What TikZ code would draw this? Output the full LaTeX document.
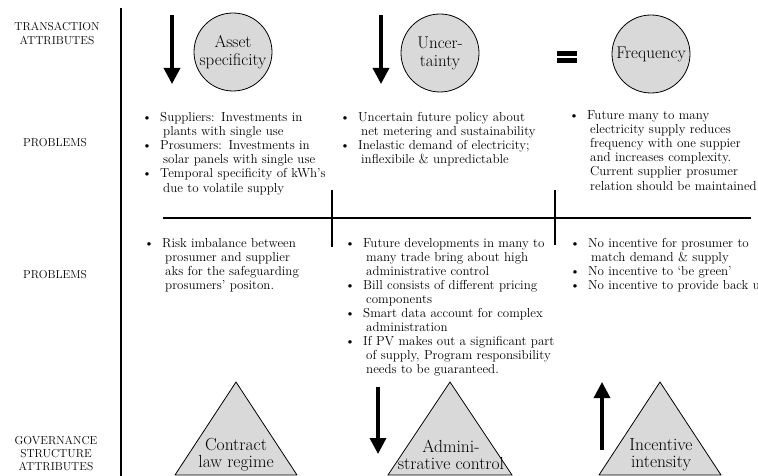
\documentclass[tikz,border=0pt]{standalone}
\usepackage{fontspec}
\usepackage{tikz}
\usetikzlibrary{arrows.meta,positioning}
\definecolor{TcGray}{HTML}{D9D9D9}
\definecolor{TcDark}{HTML}{000000}
\newcommand{\bitem}{\par\hangindent=21pt\hangafter=1\noindent\makebox[18pt][l]{\textbullet}}
\newcommand{\nl}{\newline}
\tikzset{
  rowlabel/.style={align=center,inner sep=0pt,font=\fontsize{11.5}{14}\selectfont},
  attrcircle/.style={circle,draw=TcDark,line width=0.8pt,fill=TcGray,minimum size=78pt,inner sep=0pt,align=center,font=\fontsize{17}{18}\selectfont},
  attrtext/.style={align=center,inner sep=0pt,font=\fontsize{17.5}{17}\selectfont},
  problist/.style={text width=215pt,align=left,inner sep=0pt,anchor=base west,font=\fontsize{13}{14.1}\selectfont},
  bigarrow/.style={-{Triangle[length=16pt,width=16pt]},line width=3.4pt,draw=TcDark},
  gridline/.style={line width=1.1pt,draw=TcDark},
  govtri/.style={draw=TcDark,line width=0.8pt,fill=TcGray,line join=miter}
}

\begin{document}
\begin{tikzpicture}[x=1pt,y=-1pt]
\useasboundingbox (0,0) rectangle (758,476);
\node[rowlabel] (ltrans) at (57,34) {TRANSACTION\\ATTRIBUTES};
\node[rowlabel] (lprob1) at (55,143) {PROBLEMS};
\node[rowlabel] (lprob2) at (55,275) {PROBLEMS};
\node[rowlabel,font=\fontsize{11.5}{13}\selectfont] (lgov) at (56,454) {GOVERNANCE\\STRUCTURE\\ATTRIBUTES};
\coordinate (vtop) at (121,8);
\coordinate (vbot) at (121,476);
\draw[gridline] (vtop) -- (vbot);

\node[attrcircle] (asset) at (233,52) {Asset\\specificity};
\node[attrcircle] (uncert) at (440,53) {Uncer-\\tainty};
\node[attrcircle] (freq) at (651,54) {Frequency};
\coordinate (a1s) at (172,15);
\coordinate (a1e) at (172,84);
\coordinate (a2s) at (381,15);
\coordinate (a2e) at (381,84);
\draw[bigarrow] (a1s) -- (a1e);
\draw[bigarrow] (a2s) -- (a2e);
\fill[TcDark] (557,51.5) rectangle (577,56);
\fill[TcDark] (557,58.5) rectangle (577,63);

\node[problist] (p1a) at (142,107.5) {\bitem Suppliers: Investments in\nl plants with single use
\bitem Prosumers: Investments in\nl solar panels with single use
\bitem Temporal specificity of kWh's\nl due to volatile supply\par};
\node[problist] (p1b) at (340,107.5) {\bitem Uncertain future policy about\nl net metering and sustainability
\bitem Inelastic demand of electricity;\nl inflexibile \& unpredictable\par};
\node[problist] (p1c) at (569,105.5) {\bitem Future many to many\nl electricity supply reduces\nl frequency with one suppier\nl and increases complexity.\nl Current supplier prosumer\nl relation should be maintained\par};

\coordinate (hl) at (163,218);
\coordinate (hr) at (751,218);
\coordinate (m1t) at (332,190);
\coordinate (m1b) at (332,247);
\coordinate (m2t) at (555,190);
\coordinate (m2b) at (555,245);
\draw[gridline] (hl) -- (hr);
\draw[gridline] (m1t) -- (m1b);
\draw[gridline] (m2t) -- (m2b);

\node[problist] (p2a) at (144,233) {\bitem Risk imbalance between\nl prosumer and supplier\nl aks for the safeguarding\nl prosumers' positon.\par};
\node[problist] (p2b) at (345,233) {\bitem Future developments in many to\nl many trade bring about high\nl administrative control
\bitem Bill consists of different pricing\nl components
\bitem Smart data account for complex\nl administration
\bitem If PV makes out a significant part\nl of supply, Program responsibility\nl needs to be guaranteed.\par};
\node[problist] (p2c) at (570,233) {\bitem No incentive for prosumer to\nl match demand \& supply
\bitem No incentive to `be green'
\bitem No incentive to provide back up\par};

\filldraw[govtri] (236,382) -- (175,475) -- (297,475) -- cycle;
\filldraw[govtri] (450,382) -- (388,475) -- (512,475) -- cycle;
\filldraw[govtri] (660,382) -- (599,475) -- (721,475) -- cycle;
\node[attrtext] (contract) at (236,455) {Contract\\law regime};
\node[attrtext] (admin) at (451,455) {Admini-\\strative control};
\node[attrtext] (incent) at (661,455) {Incentive\\intensity};
\coordinate (a3s) at (378,387);
\coordinate (a3e) at (378,454);
\coordinate (a4s) at (602,450);
\coordinate (a4e) at (602,382);
\draw[bigarrow] (a3s) -- (a3e);
\draw[bigarrow] (a4s) -- (a4e);
\end{tikzpicture}
\end{document}
